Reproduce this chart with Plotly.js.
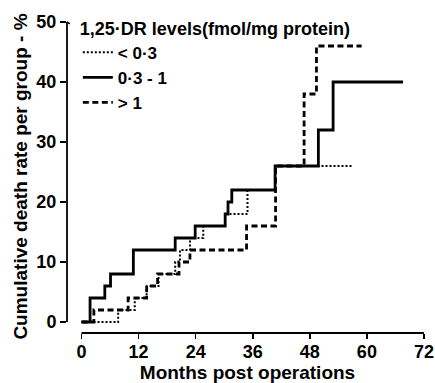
<!DOCTYPE html>
<html>
<head>
<meta charset="utf-8">
<script src="https://cdn.plot.ly/plotly-3.0.1.min.js"></script>
<style>html,body{margin:0;padding:0;background:#fff;}#chart{width:435px;height:383px;}</style>
</head>
<body>
<div id="chart"></div>
<script>
// ---- data ----
var seriesNames = ["< 0·3", "0·3 - 1", "> 1"];

var lowMonths  = [0, 7.7, 11.2, 13.7, 16.2, 19.7, 20.7, 22.8, 25.6, 30.2, 34.9, 40.7, 57.0];
var lowRate    = [0, 2,   4,    6,    8,    10,   12,   14,   16,   18,   22,   26,   26];

var midMonths  = [0, 1.8, 4.9, 6.1, 10.9, 19.7, 23.9, 30.2, 30.8, 31.6, 40.7, 49.8, 52.9, 67.6];
var midRate    = [0, 4,   6,   8,   12,   14,   16,   18,   20,   22,   26,   32,   40,   40];

var highMonths = [0, 2.6, 9.8, 13.7, 16.0, 20.5, 22.8, 34.7, 40.8, 46.8, 49.4, 58.9];
var highRate   = [0, 2,   4,   6,    8,    10,   12,   16,   26,   38,   46,   46];

var xTicks = [0, 12, 24, 36, 48, 60, 72];
var yTicks = [0, 10, 20, 30, 40, 50];

var legendTitle = "1,25·DR levels(fmol/mg protein)";
var xTitle = "Months post operations";
var yTitle = "Cumulative death rate per group - %";

// ---- layout ----
var FONT = "Liberation Sans, Arial, Helvetica, sans-serif";
var NB = "\u00a0";
var xRange = [-3.05, 72.85];
var yRange = [-1.83, 50.33];
function fx(v){ return (v - xRange[0]) / (xRange[1] - xRange[0]); }
function fy(v){ return (v - yRange[0]) / (yRange[1] - yRange[0]); }
function f(size){ return {family: FONT, size: size, color: "#000000", weight: 700}; }

var traces = [
  {x: lowMonths, y: lowRate, name: seriesNames[0], mode: "lines", legendgroup: "a",
   line: {shape: "hv", color: "#000", width: 2, dash: "2px,2px"}},
  {x: midMonths, y: midRate, name: seriesNames[1], mode: "lines", legendgroup: "b",
   line: {shape: "hv", color: "#000", width: 2.8}},
  {x: highMonths, y: highRate, name: seriesNames[2], mode: "lines", legendgroup: "c",
   line: {shape: "hv", color: "#000", width: 2.8, dash: "6px,3.5px"}}
];

var layout = {
  width: 435, height: 383,
  margin: {l: 67, r: 7, t: 20, b: 50},
  paper_bgcolor: "#fff", plot_bgcolor: "#fff",
  font: f(16),
  showlegend: true,
  legend: {
    x: 0.03, y: 1.028, xanchor: "left", yanchor: "top",
    bgcolor: "rgba(0,0,0,0)", borderwidth: 0,
    font: f(17),
    title: {text: legendTitle, side: "top", font: f(18)},
    tracegroupgap: 1, traceorder: "normal"
  },
  xaxis: {
    range: xRange, tickvals: xTicks, ticktext: xTicks.map(String),
    showgrid: false, zeroline: false, showline: false,
    ticks: "outside", ticklen: 5, tickwidth: 1.6, tickcolor: "#000",
    ticklabelstandoff: -3,
    tickfont: f(18),
    title: {text: NB + NB + NB + xTitle, standoff: 15, font: f(19)},
    fixedrange: true
  },
  yaxis: {
    range: yRange, tickvals: yTicks, ticktext: yTicks.map(String),
    showgrid: false, zeroline: false, showline: false,
    ticks: "outside", ticklen: 6, tickwidth: 1.6, tickcolor: "#000",
    tickfont: f(18),
    title: {text: yTitle + NB + NB + NB, standoff: 3, font: f(19)},
    fixedrange: true
  },
  shapes: [
    {type: "line", xref: "paper", yref: "paper", x0: 0, x1: 0, y0: fy(0), y1: fy(50),
     line: {color: "#000", width: 1.8}},
    {type: "line", xref: "paper", yref: "paper", x0: 0, x1: 0.008, y0: fy(50), y1: fy(50) - 0.006,
     line: {color: "#000", width: 1.5}},
    {type: "line", xref: "paper", yref: "paper", x0: fx(0), x1: fx(72), y0: 0, y1: 0,
     line: {color: "#000", width: 1.8}}
  ]
};

Plotly.newPlot("chart", traces, layout, {displayModeBar: false, staticPlot: true});
</script>
</body>
</html>
